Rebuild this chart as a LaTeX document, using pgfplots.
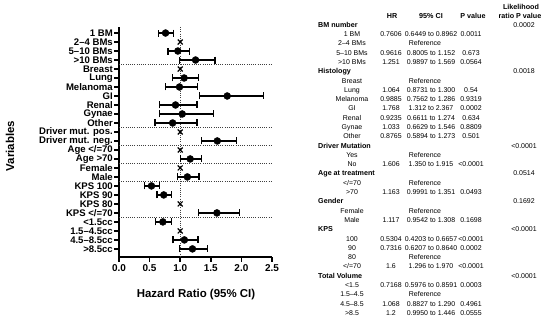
\documentclass[border=0pt]{standalone}
\usepackage{pgfplots}
\pgfplotsset{compat=1.18}
\usepackage{pgfplotstable}
\usepackage{fontspec}
\setmainfont{Liberation Sans}
\pgfplotstableread{
row hr lo hi
0 0.7606 0.6449 0.8962
-2 0.9616 0.8005 1.152
-3 1.251 0.9897 1.569
-5 1.064 0.8731 1.300
-6 0.9885 0.7562 1.286
-7 1.768 1.312 2.367
-8 0.9235 0.6611 1.274
-9 1.033 0.6629 1.546
-10 0.8765 0.5894 1.273
-12 1.606 1.350 1.915
-14 1.163 0.9991 1.351
-16 1.117 0.9542 1.308
-17 0.5304 0.4203 0.6657
-18 0.7316 0.6207 0.8640
-20 1.6 1.296 1.970
-21 0.7168 0.5976 0.8591
-23 1.068 0.8827 1.290
-24 1.2 0.9950 1.446
}\hrdata
\pgfplotstableread{
row hr
-1 1
-4 1
-11 1
-13 1
-15 1
-19 1
-22 1
}\refdata
\newcommand{\tf}{\fontsize{7.0}{8}\selectfont}
\newcommand{\tb}{\bfseries\fontsize{7.2}{8}\selectfont}
\tikzset{tcell/.style={inner sep=0pt, text height=5.1bp, text depth=1.4bp},
  refline/.style={line width=0.9bp, black!75, dash pattern=on 0.9bp off 1.3bp}}
\newcommand{\hdr}[3]{%
  \node[tcell,anchor=west,font=\tb] at (318bp,{(294.5-9.29*#1)*1bp}) {#2};
  \node[tcell,font=\tf] at (524bp,{(294.5-9.29*#1)*1bp}) {#3};}
\newcommand{\dr}[5]{%
  \node[tcell,font=\tf] at (352bp,{(294.5-9.29*#1)*1bp}) {#2};
  \node[tcell,font=\tf] at (391bp,{(294.5-9.29*#1)*1bp}) {#3};
  \node[tcell,font=\tf] at (431bp,{(294.5-9.29*#1)*1bp}) {#4};
  \node[tcell,font=\tf] at (471bp,{(294.5-9.29*#1)*1bp}) {#5};}
\newcommand{\rr}[2]{%
  \node[tcell,font=\tf] at (352bp,{(294.5-9.29*#1)*1bp}) {#2};
  \node[tcell,font=\tf] at (425bp,{(294.5-9.29*#1)*1bp}) {Reference};}
\begin{document}
\begin{tikzpicture}
\useasboundingbox (0,0) rectangle (550bp,320bp);
\begin{axis}[
  at={(119bp,63bp)}, anchor=south west,
  scale only axis, width=153bp, height=230bp,
  xmin=0, xmax=2.5, ymin=-24.9, ymax=0.67,
  axis x line*=bottom, axis y line*=left,
  axis line style={line width=1.5bp, black},
  every tick/.style={black, line width=1.5bp},
  major tick length=5bp, tick align=outside,
  xtick={0,0.5,1,1.5,2,2.5},
  xticklabels={0.0,0.5,1.0,1.5,2.0,2.5},
  ytick={0,-1,...,-24},
  yticklabels={1 BM,2–4 BMs,5–10 BMs,>10 BMs,Breast,Lung,Melanoma,GI,Renal,Gynae,Other,Driver mut. pos.,Driver mut. neg.,Age </=70,Age >70,Female,Male,KPS 100,KPS 90,KPS 80,KPS </=70,<1.5cc,1.5–4.5cc,4.5–8.5cc,>8.5cc},
  xticklabel style={font=\bfseries\fontsize{10}{10}\selectfont, inner ysep=2bp},
  yticklabel style={font=\bfseries\fontsize{9.6}{10}\selectfont, inner xsep=1bp},
  clip=false,
]
\draw[refline] (axis cs:1,0.67) -- (axis cs:1,-24.9);
\draw[refline] (axis cs:0,-3.5) -- (axis cs:2.5,-3.5);
\draw[refline] (axis cs:0,-10.5) -- (axis cs:2.5,-10.5);
\draw[refline] (axis cs:0,-12.5) -- (axis cs:2.5,-12.5);
\draw[refline] (axis cs:0,-14.5) -- (axis cs:2.5,-14.5);
\draw[refline] (axis cs:0,-16.5) -- (axis cs:2.5,-16.5);
\draw[refline] (axis cs:0,-20.5) -- (axis cs:2.5,-20.5);
\addplot[only marks, mark=*, mark size=3.5bp, mark options={fill=black, draw=black},
  error bars/.cd, x dir=both, x explicit,
  error bar style={line width=1.2bp, black},
  error mark options={line width=1.2bp, black, mark size=3.5bp, rotate=90}]
  table[x=hr, y=row, x error plus expr=\thisrow{hi}-\thisrow{hr}, x error minus expr=\thisrow{hr}-\thisrow{lo}] {\hrdata};
\addplot[only marks, mark=x, mark size=3.5bp, mark options={line width=1.2bp, black}]
  table[x=hr, y=row] {\refdata};
\end{axis}
\node[rotate=90, font=\bfseries\fontsize{11.5}{12}\selectfont] at (10bp,174bp) {Variables};
\node[font=\bfseries\fontsize{11.5}{12}\selectfont] at (196bp,25bp) {Hazard Ratio (95\% CI)};
% table headers
\node[tcell,font=\tb] at (392bp,303bp) {HR};
\node[tcell,font=\tb] at (431bp,303bp) {95\% CI};
\node[tcell,font=\tb] at (473bp,303bp) {P value};
\node[tcell,font=\tb] at (521bp,312.5bp) {Likelihood};
\node[tcell,font=\tb] at (520bp,303bp) {ratio P value};
\hdr{0}{BM number}{0.0002}
\dr{1}{1 BM}{0.7606}{0.6449 to 0.8962}{0.0011}
\rr{2}{2–4 BMs}
\dr{3}{5–10 BMs}{0.9616}{0.8005 to 1.152}{0.673}
\dr{4}{>10 BMs}{1.251}{0.9897 to 1.569}{0.0564}
\hdr{5}{Histology}{0.0018}
\rr{6}{Breast}
\dr{7}{Lung}{1.064}{0.8731 to 1.300}{0.54}
\dr{8}{Melanoma}{0.9885}{0.7562 to 1.286}{0.9319}
\dr{9}{GI}{1.768}{1.312 to 2.367}{0.0002}
\dr{10}{Renal}{0.9235}{0.6611 to 1.274}{0.634}
\dr{11}{Gynae}{1.033}{0.6629 to 1.546}{0.8809}
\dr{12}{Other}{0.8765}{0.5894 to 1.273}{0.501}
\hdr{13}{Driver Mutation}{<0.0001}
\rr{14}{Yes}
\dr{15}{No}{1.606}{1.350 to 1.915}{<0.0001}
\hdr{16}{Age at treatment}{0.0514}
\rr{17}{</=70}
\dr{18}{>70}{1.163}{0.9991 to 1.351}{0.0493}
\hdr{19}{Gender}{0.1692}
\rr{20}{Female}
\dr{21}{Male}{1.117}{0.9542 to 1.308}{0.1698}
\hdr{22}{KPS}{<0.0001}
\dr{23}{100}{0.5304}{0.4203 to 0.6657}{<0.0001}
\dr{24}{90}{0.7316}{0.6207 to 0.8640}{0.0002}
\rr{25}{80}
\dr{26}{</=70}{1.6}{1.296 to 1.970}{<0.0001}
\hdr{27}{Total Volume}{<0.0001}
\dr{28}{<1.5}{0.7168}{0.5976 to 0.8591}{0.0003}
\rr{29}{1.5–4.5}
\dr{30}{4.5–8.5}{1.068}{0.8827 to 1.290}{0.4961}
\dr{31}{>8.5}{1.2}{0.9950 to 1.446}{0.0555}
\end{tikzpicture}
\end{document}
